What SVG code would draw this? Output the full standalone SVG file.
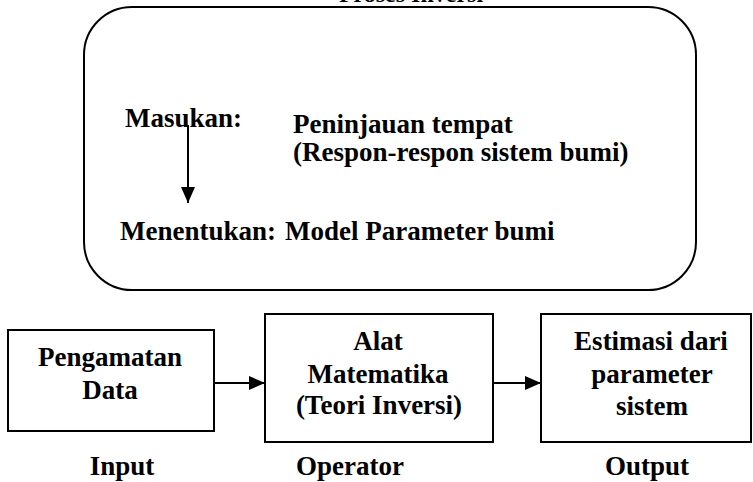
<svg xmlns="http://www.w3.org/2000/svg" width="753" height="482" viewBox="0 0 753 482">
<style>
text{font-family:'Liberation Serif','Times New Roman','DejaVu Serif',serif;font-weight:700;fill:#000}
.t{font-size:27px}
.c{text-anchor:middle}
.box{fill:none;stroke:#000;stroke-width:2}
.ln{stroke:#000;stroke-width:2;fill:none}
</style>
<defs>
<marker id="ah" markerWidth="16" markerHeight="14" refX="16" refY="7" orient="auto" markerUnits="userSpaceOnUse">
<path d="M0,0 L16,7 L0,14 Z" fill="#000"/>
</marker>
</defs>
<rect width="753" height="482" fill="#fff"/>
<g id="proses-inversi">
<text class="c" x="411" y="2" style="font-size:24px">Proses Inversi</text>
<rect class="box" x="84" y="7" width="612" height="283" rx="48" ry="48"/>
<text class="t" x="125" y="127">Masukan:</text>
<text class="t" x="293" y="133">Peninjauan tempat</text>
<text class="t" x="293" y="161">(Respon-respon sistem bumi)</text>
<text class="t" x="120" y="240">Menentukan:</text>
<text class="t" x="285" y="240">Model Parameter bumi</text>
</g>
<g id="input">
<rect class="box" x="8" y="330" width="206" height="101"/>
<text class="t c" x="110" y="366">Pengamatan</text>
<text class="t c" x="110" y="399">Data</text>
<text class="t c" x="122" y="475">Input</text>
</g>
<g id="operator">
<rect class="box" x="265" y="314" width="228" height="128"/>
<text class="t c" x="378" y="350">Alat</text>
<text class="t c" x="378" y="383">Matematika</text>
<text class="t c" x="379" y="414">(Teori Inversi)</text>
<text class="t c" x="350" y="475">Operator</text>
</g>
<g id="output">
<rect class="box" x="541" y="314" width="210" height="128"/>
<text class="t c" x="651" y="350">Estimasi dari</text>
<text class="t c" x="652" y="383">parameter</text>
<text class="t c" x="652" y="415">sistem</text>
<text class="t c" x="647" y="475">Output</text>
</g>
<g id="connectors">
<line class="ln" x1="188" y1="125" x2="188" y2="203" marker-end="url(#ah)"/>
<line class="ln" x1="214" y1="383" x2="265" y2="383" marker-end="url(#ah)"/>
<line class="ln" x1="493" y1="383" x2="541" y2="383" marker-end="url(#ah)"/>
</g>
</svg>
